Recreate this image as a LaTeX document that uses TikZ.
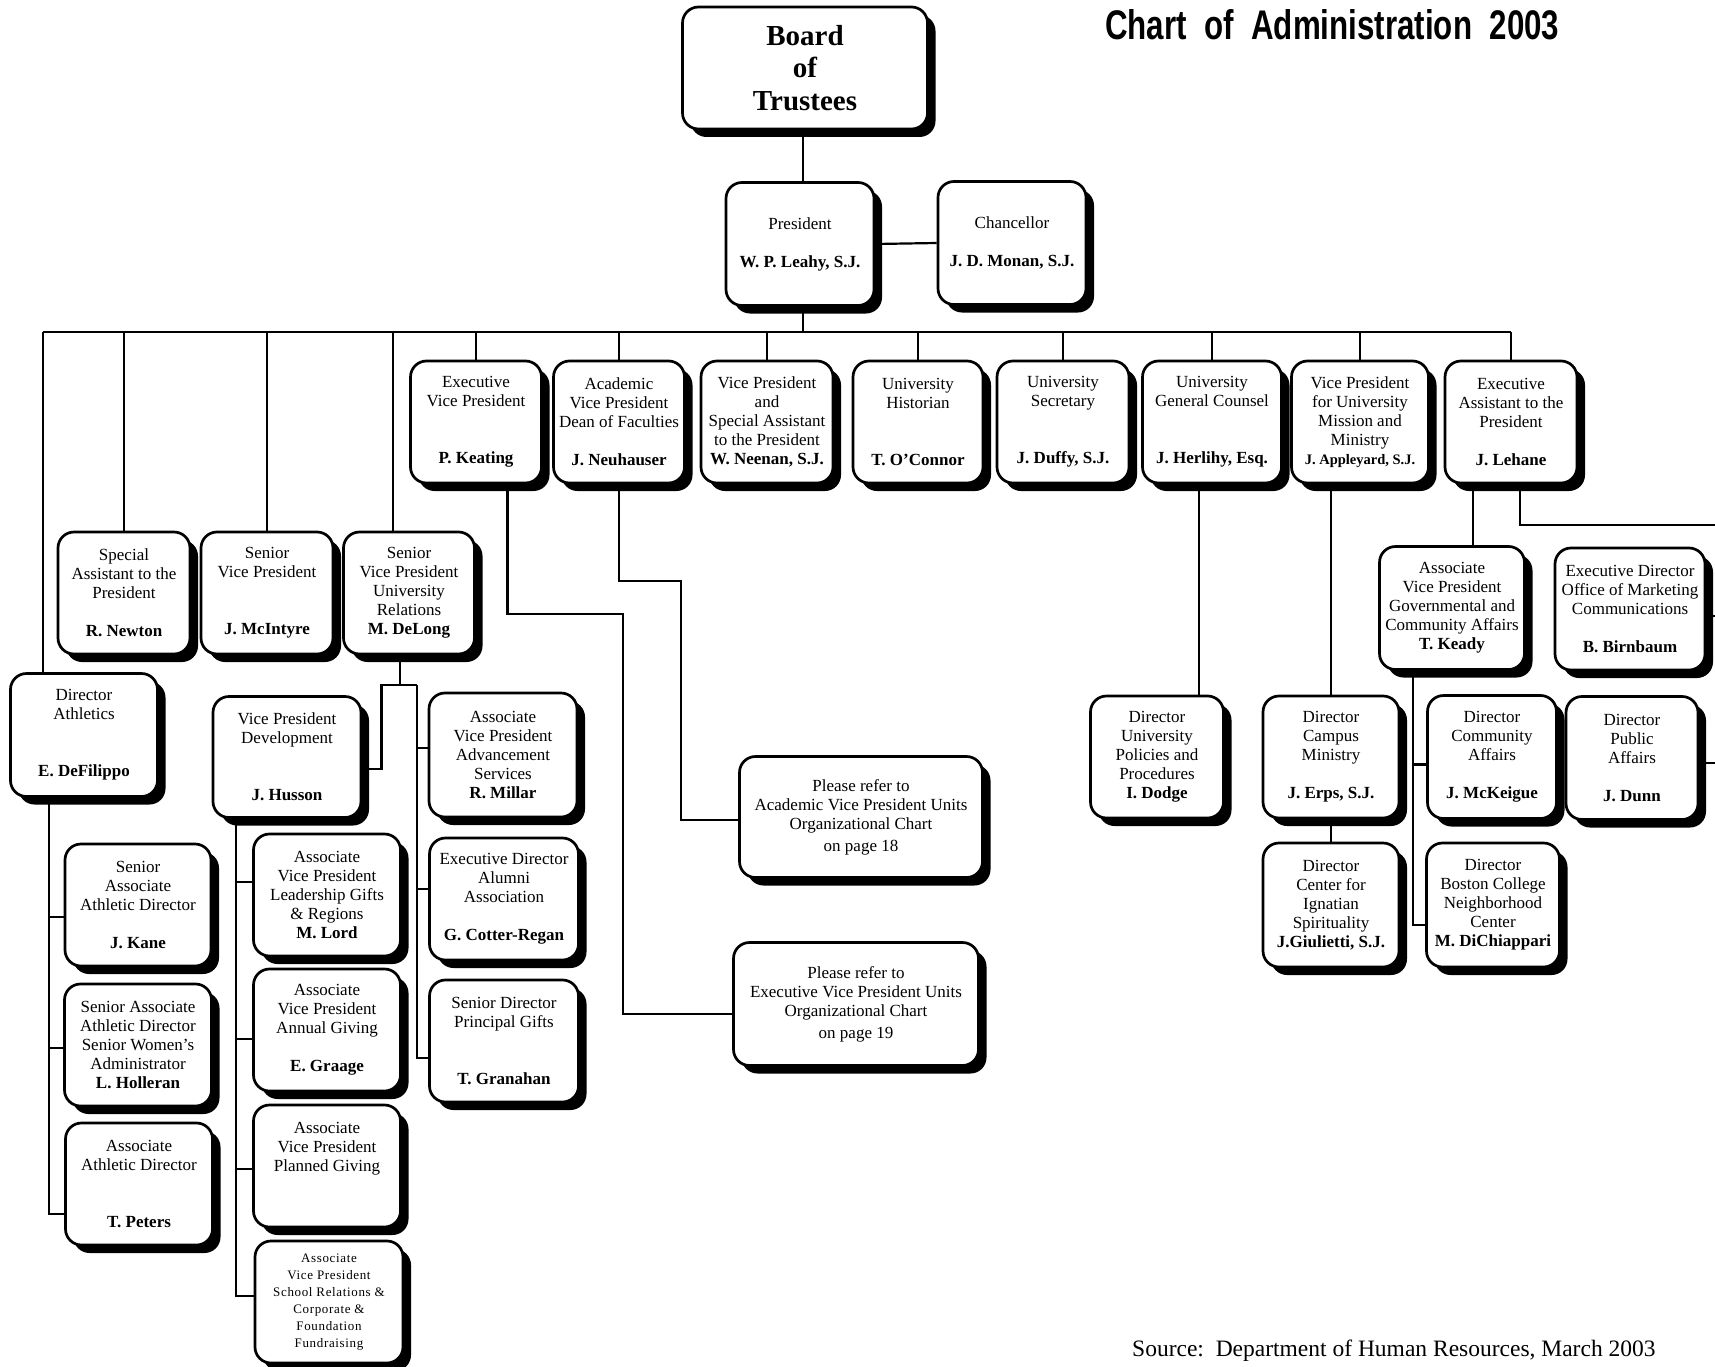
\documentclass[tikz,border=0pt]{standalone}
\usepackage{fontspec}
\setmainfont{Liberation Serif}
\newfontfamily\titlefont{Liberation Sans}
\newfontfamily\spacedfont{Liberation Serif}[LetterSpace=5]
\usepackage{graphicx}
\usetikzlibrary{shadows,calc}

\begin{document}
\begin{tikzpicture}[x=1pt, y=-1pt,
    box/.style={draw, line width=2.7pt, rounded corners=16pt, fill=white, align=center,
      inner sep=0pt, font=\fontsize{17}{19}\selectfont,
      general shadow={fill=black, shadow xshift=8pt, shadow yshift=-8pt},
      minimum width=132pt, minimum height=122pt},
    link/.style={line width=2.2pt}]
    \useasboundingbox (0,0) rectangle (1715,1367);

    % Title and source
    \node[anchor=north west, inner sep=0pt] (title) at (1105,9)
        {\resizebox{454pt}{30pt}{\titlefont\bfseries Chart\ \ of\ \ Administration\ \ 2003}};
    \node[anchor=base west, inner sep=0pt, font=\fontsize{23.5}{26}\selectfont] (src) at (1132,1356)
        {Source:\ \ Department of Human Resources, March 2003};

    % Top of the chart
    \node[box, minimum width=245pt, font=\fontsize{29}{32.5}\selectfont\bfseries] (board) at (805,68) {Board\\of\\Trustees};
    \node[box, minimum width=148pt, minimum height=123pt] (pres) at (800,244) {President\\~\\\textbf{W. P. Leahy, S.J.}};
    \node[box, minimum width=148pt, minimum height=123pt] (chan) at (1012,243) {Chancellor\\~\\\textbf{J. D. Monan, S.J.}};

    % Row below the bus
    \node[box, minimum width=131pt] (evp) at (476,422) {Executive\\Vice President\\~\\~\\\textbf{P. Keating}};
    \node[box, minimum width=131pt] (avp) at (619,422) {Academic\\Vice President\\Dean of Faculties\\~\\\textbf{J. Neuhauser}};
    \node[box] (neen) at (767,422) {Vice President\\and\\Special Assistant\\to the President\\\textbf{W. Neenan, S.J.}};
    \node[box, minimum width=130pt] (hist) at (918,422) {University\\Historian\\~\\~\\\textbf{T. O’Connor}};
    \node[box] (secr) at (1063,422) {University\\Secretary\\~\\~\\\textbf{J. Duffy, S.J.}};
    \node[box, minimum width=139pt] (gcou) at (1212,422) {University\\General Counsel\\~\\~\\\textbf{J. Herlihy, Esq.}};
    \node[box, minimum width=137pt] (miss) at (1360,422) {Vice President\\for University\\Mission and\\Ministry\\{\fontsize{14.5}{19}\selectfont\bfseries J. Appleyard, S.J.}};
    \node[box] (exas) at (1511,422) {Executive\\Assistant to the\\President\\~\\\textbf{J. Lehane}};

    \node[box] (spas) at (124,593) {Special\\Assistant to the\\President\\~\\\textbf{R. Newton}};
    \node[box] (svp) at (267,593) {Senior\\Vice President\\~\\~\\\textbf{J. McIntyre}};
    \node[box, minimum width=131pt] (svpur) at (409,593) {Senior\\Vice President\\University\\Relations\\\textbf{M. DeLong}};

    % Athletics
    \node[box, minimum width=147pt, minimum height=123pt] (ath) at (84,735) {Director\\Athletics\\~\\~\\\textbf{E. DeFilippo}};
    \node[box, minimum width=146pt] (kane) at (138,905) {Senior\\Associate\\Athletic Director\\~\\\textbf{J. Kane}};
    \node[box, minimum width=147pt] (holl) at (138,1045) {Senior Associate\\Athletic Director\\Senior Women’s\\Administrator\\\textbf{L. Holleran}};
    \node[box, minimum width=147pt] (pete) at (139,1184) {Associate\\Athletic Director\\~\\~\\\textbf{T. Peters}};

    % Development
    \node[box, minimum width=148pt, minimum height=121pt] (huss) at (287,757) {Vice President\\Development\\~\\~\\\textbf{J. Husson}};
    \node[box, minimum width=147pt] (lord) at (327,895) {Associate\\Vice President\\Leadership Gifts\\\& Regions\\\textbf{M. Lord}};
    \node[box, minimum width=147pt] (graa) at (327,1030) {Associate\\Vice President\\Annual Giving\\~\\\textbf{E. Graage}};
    \node[box, minimum width=147pt] (plan) at (327,1166) {Associate\\Vice President\\Planned Giving\\~\\~};
    \node[box, minimum width=148pt, font=\spacedfont\fontsize{13}{17}\selectfont] (schl) at (329,1302)
        {Associate\\Vice President\\School Relations \&\\Corporate \&\\Foundation\\Fundraising};

    % University relations
    \node[box, minimum width=148pt, minimum height=124pt] (mill) at (503,755) {Associate\\Vice President\\Advancement\\Services\\\textbf{R. Millar}};
    \node[box, minimum width=149pt] (cott) at (504,899) {Executive Director\\Alumni\\Association\\~\\\textbf{G. Cotter-Regan}};
    \node[box, minimum width=149pt] (gran) at (504,1041) {Senior Director\\Principal Gifts\\~\\~\\\textbf{T. Granahan}};

    % References to other charts
    \node[box, minimum width=243pt, minimum height=121pt] (acref) at (861,817) {Please refer to\\Academic Vice President Units\\Organizational Chart\\[3pt]on page 18};
    \node[box, minimum width=245pt, minimum height=123pt] (evref) at (856,1004) {Please refer to\\Executive Vice President Units\\Organizational Chart\\[3pt]on page 19};

    % Right side
    \node[box, minimum width=133pt] (dodg) at (1157,757) {Director\\University\\Policies and\\Procedures\\\textbf{I. Dodge}};
    \node[box, minimum width=136pt] (erps) at (1331,757) {Director\\Campus\\Ministry\\~\\\textbf{J. Erps, S.J.}};
    \node[box, minimum width=136pt, minimum height=124pt] (giul) at (1331,905) {Director\\Center for\\Ignatian\\Spirituality\\\textbf{J.Giulietti, S.J.}};
    \node[box, minimum width=145pt, minimum height=123pt] (kead) at (1452,608) {Associate\\Vice President\\Governmental and\\Community Affairs\\\textbf{T. Keady}};
    \node[box, minimum width=150pt] (birn) at (1630,609) {Executive Director\\Office of Marketing\\Communications\\~\\\textbf{B. Birnbaum}};
    \node[box, minimum width=129pt, minimum height=123pt] (mcke) at (1492,757) {Director\\Community\\Affairs\\~\\\textbf{J. McKeigue}};
    \node[box, minimum width=133pt, minimum height=124pt] (dich) at (1493,905) {Director\\Boston College\\Neighborhood\\Center\\\textbf{M. DiChiappari}};
    \node[box, minimum height=123pt] (dunn) at (1632,758) {Director\\Public\\Affairs\\~\\\textbf{J. Dunn}};

    % Bus under the President
    \coordinate (busL) at (43,332);
    \draw[link] ([xshift=-2pt]board.south) -- ([xshift=-2pt]board.south |- pres.north);
    \draw[link] (pres.east) -- (chan.west);
    \draw[link] ([xshift=3pt]pres.south) -- ([xshift=3pt]pres.south |- busL);
    \draw[link] (busL) -- (busL -| exas.north);
    \foreach \n in {evp,avp,neen,hist,secr,gcou,miss,exas,spas,svp}
        \draw[link] (\n.north) -- (\n.north |- busL);
    \draw[link] ([xshift=-16pt]svpur.north) -- ([xshift=-16pt]svpur.north |- busL);
    \draw[link] (busL) -- (busL |- ath.north);

    % Athletics spine
    \coordinate (athS) at ([xshift=-35pt]ath.south);
    \draw[link] ($(kane.west)+(0,12)$) -| (athS);
    \draw[link] ($(holl.west)+(0,3)$) -| (athS);
    \draw[link] ($(pete.west)+(0,30)$) -| (athS);

    % University relations split
    \coordinate (urS) at ([xshift=-9pt]svpur.south);
    \coordinate (urJ) at ($(urS)+(0,30)$);
    \draw[link] (urS) -- (urJ);
    \draw[link] ($(huss.east)+(0,12)$) -| ($(urJ)+(-18.5,0)$) -- ($(urJ)+(17,0)$);
    \draw[link] ($(mill.west)+(0,-7)$) -| ($(urJ)+(17,0)$);
    \draw[link] ($(cott.west)+(0,-10)$) -| ($(urJ)+(17,0)$);
    \draw[link] ($(gran.west)+(0,17)$) -| ($(urJ)+(17,0)$);

    % Development spine
    \coordinate (devS) at ([xshift=-51pt]huss.south);
    \draw[link] ($(lord.west)+(0,-13)$) -| (devS);
    \draw[link] ($(graa.west)+(0,9)$) -| (devS);
    \draw[link] ($(plan.west)+(0,3)$) -| (devS);
    \draw[link] ($(schl.west)+(0,-6)$) -| (devS);

    % Executive and Academic VP to their charts
    \draw[link] ([xshift=31.5pt]evp.south) -- ++(0,130) -| ($(evref.west)+(-109,10)$) -- ($(evref.west)+(0,10)$);
    \draw[link] (avp.south) -- ++(0,97) -| ($(acref.west)+(-57,3)$) -- ($(acref.west)+(0,3)$);

    % Right side links
    \draw[link] ([xshift=-13pt]gcou.south) -- ([xshift=-13pt]gcou.south |- dodg.north);
    \draw[link] (erps.north) -- (erps.north |- miss.south);
    \draw[link] (erps.south) -- (giul.north);
    \draw[link] ([xshift=21pt]kead.north) -- ([xshift=21pt]kead.north |- exas.south);
    \coordinate (edgeR) at (1715,525);
    \coordinate (edgeB) at (1715,616);
    \coordinate (edgeD) at (1715,763);
    \draw[link] ([xshift=9pt]exas.south) |- (edgeR);
    \draw[link] (birn.east |- edgeB) -- (edgeB);
    \draw[link] (dunn.east |- edgeD) -- (edgeD);
    \coordinate (kdS) at ([xshift=-39pt]kead.south);
    \draw[link] ($(mcke.west)+(0,7.5)$) -| (kdS);
    \draw[link] ($(dich.west)+(0,20)$) -| (kdS);
\end{tikzpicture}
\end{document}
